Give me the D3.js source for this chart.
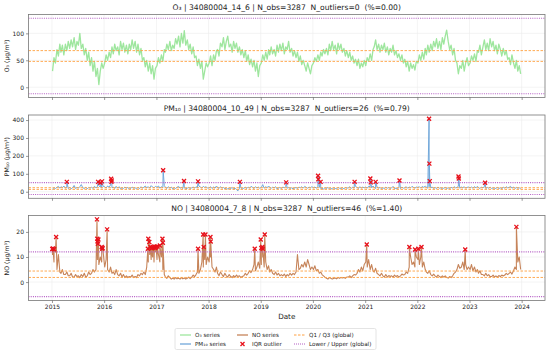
<!DOCTYPE html>
<html>
<head>
<meta charset="utf-8">
<script src="https://cdn.jsdelivr.net/npm/d3@7"></script>
<style>
  body { margin: 0; background: #fff; }
  text { font-family: "DejaVu Sans", sans-serif; fill: #222; }
</style>
</head>
<body>
<svg id="chart" width="550" height="350"></svg>
<script>
// ---- data (3 samples a month, days 5/15/25) ----
var years = [2015, 2016, 2017, 2018, 2019, 2020, 2021, 2022, 2023];
var yearTicks = [2015, 2016, 2017, 2018, 2019, 2020, 2021, 2022, 2023, 2024];

var o3Rows = [
  "30 55 45 70 58 80 65 78 60 80 68 85 72 88 75 92 70 85 78 100 72 80 60 72 50 65 40 55 30 48 20 35 5 30 45 35",
  "45 60 50 65 55 75 62 80 68 75 60 85 70 82 65 78 62 80 70 88 72 85 65 80 60 72 50 55 38 50 30 45 25 40 15 35",
  "40 55 45 60 48 70 65 80 70 85 68 78 72 90 80 95 75 100 82 105 78 88 70 80 62 75 55 58 40 52 35 48 15 30 45 38",
  "45 58 40 60 50 68 70 58 82 75 92 70 85 95 75 80 65 85 72 82 65 75 60 70 55 68 48 60 42 52 38 50 30 45 20 40",
  "45 60 50 65 52 70 60 75 62 70 58 78 65 80 68 82 62 75 70 85 65 72 58 68 55 65 48 58 42 50 40 30 45 35 25 40",
  "45 55 48 60 50 65 58 70 62 72 60 80 68 85 70 78 62 82 70 80 65 72 58 68 55 65 50 58 45 52 40 52 35 45 38 50",
  "40 55 48 62 50 70 75 88 70 80 65 78 70 82 65 75 60 72 65 78 60 68 55 62 50 60 45 52 38 48 30 45 35 42 32 48",
  "45 60 50 65 52 72 60 78 65 80 68 85 75 90 72 85 70 92 80 95 106 85 70 78 60 72 50 45 25 40 35 50 30 45 55 40",
  "45 58 50 62 48 68 65 78 60 75 88 70 82 68 90 75 85 68 78 62 80 70 58 72 60 68 52 55 42 60 45 35 50 30 40 25"
];

var pm10Rows = [
  "15 22 18 25 30 20 28 22 32 20 26 18 24 16 22 35 18 24 20 28 40 22 18 25 16 24 20 26 18 30 22 28 35 25 20 30",
  "28 20 32 25 38 22 26 18 30 20 28 16 22 18 26 20 24 15 18 26 20 22 16 24 18 28 20 25 32 22 28 20 34 26 22 30",
  "25 32 20 28 22 35 24 18 28 20 26 16 22 18 25 30 20 24 18 22 16 20 24 18 22 26 20 28 22 32 26 20 30 24 28 20",
  "22 28 18 26 20 32 24 18 28 20 24 16 22 14 20 18 24 15 20 12 5 18 22 16 20 25 18 26 20 30 24 18 28 22 26 20",
  "24 40 20 28 22 32 25 18 26 22 28 16 20 24 18 26 22 30 20 24 18 22 16 20 24 18 26 22 28 20 30 24 20 26 22 28",
  "22 26 20 28 24 18 20 15 22 18 24 16 20 14 22 18 16 24 20 18 22 16 24 20 22 28 18 26 20 30 24 18 28 20 26 22",
  "26 20 30 28 22 32 24 18 26 20 24 16 22 18 25 20 24 16 22 30 18 20 16 24 18 26 20 22 28 20 26 22 30 24 20 26",
  "24 28 20 30 24 32 26 20 28 22 26 18 24 18 26 20 22 16 20 24 18 22 16 25 20 28 22 24 30 20 26 22 28 20 24 26",
  "22 26 20 28 22 30 24 18 26 22 28 18 24 20 26 18 22 16 20 24 18 22 16 26 20 28 22 24 30 20 26 18 24 20 22 18"
];

var noRows = [
  "11 8 12 5 11 4 3.5 5 3 3 4 2.5 2.5 3.5 2 2 3 2.2 2.5 1.8 3 2.2 3.5 2 2.5 4 3 3.5 5 4 5 9 7 10 8 12",
  "6 9 5 4 6 3.5 4 3 5 3 2.5 3.5 2 3 1.8 2.5 1.8 2.2 2 2.8 1.8 2.2 1.8 3 2.5 3.5 3 4 3 6 8 11 9 10 8 12",
  "9 11 8 10 5 3 2 1.5 2.5 1.8 1.2 1.5 1.2 1.8 1.3 1.5 1.2 1.8 1.3 1.6 1.2 1.5 2 1.4 2 2.8 2.2 3 4 3.5 5 8 6 9 7 10",
  "8 10 6 5 4 6 3.5 2.5 4 3 2.2 3.5 2.5 2 3 2.2 1.8 2.6 2 2.8 2.2 2.5 1.8 2.2 2.5 3.5 2.8 3.5 4.5 3.8 5 7 4.5 6 8 5.5",
  "7 10 6 8 5 6.5 4 5 3.5 3 4 2.8 3.5 2.5 3 2.5 3.2 2.2 3 2.5 3.5 2.8 3.5 3 4 11 5 5.5 7 6 8 6 9 7 5 6",
  "5 6.5 4.5 5 3.5 4 3 2.5 2 1.5 1.2 1.8 1.5 1.2 1.4 1.6 1.3 1.8 1.5 1.8 1.6 1.8 1.5 2 2 2.5 1.8 2.5 3 2.8 3.5 5 4 6 4.5 7",
  "8 6 9 5 7 4.5 4 5.5 3.5 3 2.5 3.5 2.5 2 3 2 2.6 2.2 2.5 2 2.8 2.2 2.6 2 2.5 3.2 2.8 3 4 3.5 6 10 7 8 6 10",
  "9 7 10 6 8 5 4 3.5 4.5 3 2.5 3.2 2.5 2 2.8 2.2 1.8 2.5 2 2.5 1.8 1.6 2.2 1.8 2.5 3.5 4 5 7 5.5 6 8 5 7 5 6",
  "5 7 4.5 6 4 5 3.5 4.5 3 3 2.5 3.5 2.5 3 2.2 2.2 2.8 2 2.5 2 2.6 2.2 2.8 2.4 2.8 3.5 3 3.5 4 3.2 4.5 6 5 8 10 5"
];

// IQR outliers [date, value]
var pm10Outliers = [
  ["2015-04-15", 55], ["2015-11-20", 55], ["2015-12-06", 50], ["2015-12-17", 58],
  ["2016-02-19", 72], ["2016-02-21", 55], ["2016-02-23", 63],
  ["2017-02-17", 120], ["2017-07-13", 60], ["2017-10-19", 58], ["2018-08-08", 55],
  ["2019-06-28", 52], ["2020-02-06", 89], ["2020-02-08", 70], ["2020-02-24", 55],
  ["2020-10-19", 55], ["2021-02-06", 74], ["2021-02-09", 52], ["2021-03-15", 55],
  ["2021-08-29", 63], ["2022-03-24", 407], ["2022-03-26", 157], ["2022-03-29", 59],
  ["2022-10-16", 85], ["2022-10-18", 74], ["2023-04-20", 50]
];

var noOutliers = [
  ["2015-01-03", 13.2], ["2015-01-08", 13.4], ["2015-01-16", 13.1], ["2015-01-30", 18],
  ["2015-11-12", 25], ["2015-11-14", 17.3], ["2015-11-16", 16.2], ["2015-11-18", 15.3],
  ["2015-11-22", 17], ["2015-12-15", 14], ["2015-12-19", 13.3], ["2015-12-21", 13.6],
  ["2016-01-22", 21],
  ["2016-11-02", 13.3], ["2016-11-05", 17.3], ["2016-11-12", 16], ["2016-11-20", 14],
  ["2016-11-28", 13.5], ["2016-12-05", 14], ["2016-12-12", 13.8], ["2016-12-18", 14.2],
  ["2016-12-24", 13.6], ["2016-12-30", 14], ["2017-01-08", 14.2], ["2017-01-25", 14.6],
  ["2017-02-12", 17.3], ["2017-02-15", 15.7],
  ["2017-10-19", 13.3], ["2017-11-24", 19], ["2017-11-28", 14], ["2017-12-10", 19],
  ["2018-01-14", 18], ["2018-01-16", 16.2], ["2018-11-20", 13.3],
  ["2019-01-01", 17], ["2019-01-05", 13.6], ["2019-01-12", 14], ["2019-01-15", 13.3], ["2019-01-29", 19],
  ["2021-01-12", 15], ["2021-11-06", 14], ["2021-12-16", 13], ["2022-01-08", 13.3],
  ["2022-01-30", 14], ["2022-12-02", 13], ["2023-11-25", 22]
];

// global quartiles [Q1, Q3]
var o3Quart = [48, 68];
var pm10Quart = [13, 22.5];
var noQuart = [1.85, 4.4];

var yTicksO3 = [0, 50, 100];
var yTicksPm10 = [0, 100, 200, 300, 400];
var yTicksNo = [0, 10, 20];

// ---- helpers ----
var parseDay = d3.timeParse("%Y-%m-%d");
var sampleDays = [5, 15, 25];

function monthly(rows) {
  var out = [];
  rows.forEach(function(row, yi) {
    row.trim().split(/\s+/).forEach(function(s, k) {
      out.push({date: new Date(years[yi], Math.floor(k / 3), sampleDays[k % 3]), v: +s});
    });
  });
  return out;
}
function points(list) {
  return list.map(function(d) { return {date: parseDay(d[0]), v: d[1]}; });
}
function merged(a, b) {
  return a.concat(b).sort(function(p, q) { return p.date - q.date; });
}

var o3 = monthly(o3Rows);
var pm10Out = points(pm10Outliers);
var noOut = points(noOutliers);
var pm10 = merged(monthly(pm10Rows), pm10Out);
var no = merged(monthly(noRows), noOut);

var panels = [
  {title: "O₃ | 34080004_14_6 | N_obs=3287  N_outliers=0  (%=0.00)", label: "O₃ (µg/m³)",
   series: o3, outl: [], q: o3Quart, ticks: yTicksO3, color: "#9ee69e", width: 1.3, top: 14.5, bottom: 97.5},
  {title: "PM₁₀ | 34080004_10_49 | N_obs=3287  N_outliers=26  (%=0.79)", label: "PM₁₀ (µg/m³)",
   series: pm10, outl: pm10Out, q: pm10Quart, ticks: yTicksPm10, color: "#72a8da", width: 1.0, top: 115, bottom: 198.3},
  {title: "NO | 34080004_7_8 | N_obs=3287  N_outliers=46  (%=1.40)", label: "NO (µg/m³)",
   series: no, outl: noOut, q: noQuart, ticks: yTicksNo, color: "#c6845a", width: 1.1, top: 215.5, bottom: 300.5}
];

var left = 28.5, right = 545;
var svg = d3.select("#chart");

var t0 = new Date(2015, 0, 1), t1 = new Date(2023, 11, 31);
var pad = (t1 - t0) * 0.05;
var x = d3.scaleTime()
  .domain([new Date(+t0 - pad), new Date(+t1 + pad)])
  .range([left, right]);
var yearDates = yearTicks.map(function(yy) { return new Date(yy, 0, 1); });

var qColor = "#ffa040", fColor = "#b45cc4";

panels.forEach(function(p, i) {
  var iqr = p.q[1] - p.q[0];
  var lower = p.q[0] - 3 * iqr, upper = p.q[1] + 3 * iqr;
  var lo = Math.min(lower, d3.min(p.series, function(d) { return d.v; }));
  var hi = Math.max(upper, d3.max(p.series, function(d) { return d.v; }));
  var yp = (hi - lo) * 0.05;
  var y = d3.scaleLinear().domain([lo - yp, hi + yp]).range([p.bottom, p.top]);

  var g = svg.append("g");
  var clipId = "clip" + i;
  g.append("clipPath").attr("id", clipId).append("rect")
    .attr("x", left).attr("y", p.top).attr("width", right - left).attr("height", p.bottom - p.top);

  // grid
  g.selectAll(".gx").data(yearDates).enter().append("line")
    .attr("x1", function(d) { return x(d); }).attr("x2", function(d) { return x(d); })
    .attr("y1", p.top).attr("y2", p.bottom)
    .attr("stroke", "#ececec").attr("stroke-width", 0.6);
  g.selectAll(".gy").data(p.ticks).enter().append("line")
    .attr("x1", left).attr("x2", right)
    .attr("y1", function(d) { return y(d); }).attr("y2", function(d) { return y(d); })
    .attr("stroke", "#ececec").attr("stroke-width", 0.6);

  var plot = g.append("g").attr("clip-path", "url(#" + clipId + ")");

  plot.append("path").datum(p.series)
    .attr("d", d3.line().x(function(d) { return x(d.date); }).y(function(d) { return y(d.v); }))
    .attr("fill", "none").attr("stroke", p.color).attr("stroke-width", p.width)
    .attr("stroke-linejoin", "round");

  p.q.forEach(function(v) {
    plot.append("line").attr("x1", left).attr("x2", right).attr("y1", y(v)).attr("y2", y(v))
      .attr("stroke", qColor).attr("stroke-width", 0.9).attr("stroke-dasharray", "2.5,1.5");
  });
  [lower, upper].forEach(function(v) {
    plot.append("line").attr("x1", left).attr("x2", right).attr("y1", y(v)).attr("y2", y(v))
      .attr("stroke", fColor).attr("stroke-width", 1.1).attr("stroke-dasharray", "1,1.2");
  });

  plot.selectAll(".mk").data(p.outl).enter().append("path")
    .attr("transform", function(d) { return "translate(" + x(d.date) + "," + y(d.v) + ")"; })
    .attr("d", "M-2,-2L2,2M-2,2L2,-2")
    .attr("stroke", "#e8101a").attr("stroke-width", 1.3).attr("fill", "none");

  // frame
  g.append("rect").attr("x", left).attr("y", p.top)
    .attr("width", right - left).attr("height", p.bottom - p.top)
    .attr("fill", "none").attr("stroke", "#777").attr("stroke-width", 0.8);

  // y axis
  var ya = g.append("g").attr("transform", "translate(" + left + ",0)")
    .call(d3.axisLeft(y).tickValues(p.ticks).tickSize(2.5).tickPadding(2));
  ya.select(".domain").remove();
  ya.selectAll("line").attr("stroke", "#555").attr("stroke-width", 0.6);
  ya.selectAll("text").attr("font-size", 6).attr("font-family", "DejaVu Sans");

  // x axis
  var xa = g.append("g").attr("transform", "translate(0," + p.bottom + ")")
    .call(d3.axisBottom(x).tickValues(yearDates).tickSize(2.5).tickPadding(2)
      .tickFormat(i === 2 ? d3.timeFormat("%Y") : ""));
  xa.select(".domain").remove();
  xa.selectAll("line").attr("stroke", "#555").attr("stroke-width", 0.6);
  xa.selectAll("text").attr("font-size", 6).attr("font-family", "DejaVu Sans");

  // title & label
  svg.append("text").attr("x", (left + right) / 2).attr("y", p.top - 4.5)
    .attr("text-anchor", "middle").attr("font-size", 7.6).style("white-space", "pre")
    .text(p.title);
  svg.append("text")
    .attr("transform", "translate(9," + (p.top + p.bottom) / 2 + ") rotate(-90)")
    .attr("text-anchor", "middle").attr("font-size", 6.2)
    .text(p.label);
});

svg.append("text").attr("x", (left + right) / 2).attr("y", 319)
  .attr("text-anchor", "middle").attr("font-size", 7.2).text("Date");

// legend
var leg = svg.append("g");
leg.append("rect").attr("x", 175).attr("y", 328.5).attr("width", 201).attr("height", 21)
  .attr("rx", 1.5).attr("fill", "#fff").attr("stroke", "#ddd").attr("stroke-width", 0.8);

var legendItems = [
  {label: "O₃ series", kind: "line", color: panels[0].color, x: 180, y: 335},
  {label: "PM₁₀ series", kind: "line", color: panels[1].color, x: 180, y: 344},
  {label: "NO series", kind: "line", color: panels[2].color, x: 237, y: 335},
  {label: "IQR outlier", kind: "x", color: "#e8101a", x: 237, y: 344},
  {label: "Q1 / Q3 (global)", kind: "dash", color: qColor, x: 294, y: 335},
  {label: "Lower / Upper (global)", kind: "dot", color: fColor, x: 294, y: 344}
];
legendItems.forEach(function(it) {
  var w = 11;
  if (it.kind === "x") {
    leg.append("path").attr("transform", "translate(" + (it.x + w / 2) + "," + it.y + ")")
      .attr("d", "M-2,-2L2,2M-2,2L2,-2").attr("stroke", it.color).attr("stroke-width", 1.3);
  } else {
    leg.append("line").attr("x1", it.x).attr("x2", it.x + w).attr("y1", it.y).attr("y2", it.y)
      .attr("stroke", it.color)
      .attr("stroke-width", it.kind === "line" ? 1.3 : 1)
      .attr("stroke-dasharray", it.kind === "dash" ? "2.5,1.5" : it.kind === "dot" ? "1,1" : null);
  }
  leg.append("text").attr("x", it.x + w + 4).attr("y", it.y + 2)
    .attr("font-size", 5.6).text(it.label);
});
</script>
</body>
</html>
